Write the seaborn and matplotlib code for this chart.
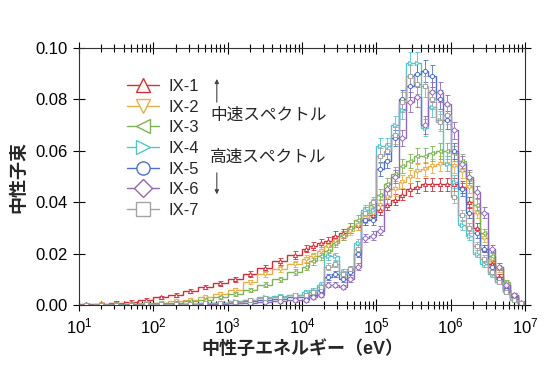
import numpy as np
import pandas as pd
import matplotlib
matplotlib.use('Agg')
import matplotlib.pyplot as plt
import seaborn as sns
from matplotlib.lines import Line2D
from matplotlib.ticker import LogLocator, FormatStrFormatter, NullFormatter

# bin edges (log10 eV)
edge_exp = [1.0, 1.2, 1.4, 1.6, 1.8, 2.0, 2.2, 2.4, 2.6, 2.8, 3.0, 3.2, 3.4, 3.6, 3.8,
            4.0, 4.1, 4.2, 4.3, 4.4, 4.5, 4.6, 4.7, 4.8, 4.9, 5.0, 5.1, 5.2, 5.3, 5.4,
            5.5, 5.6, 5.7, 5.8, 5.9, 6.0, 6.1, 6.2, 6.3, 6.4, 6.5, 6.6, 6.7, 6.8, 6.9, 7.0]
x_ticks = [1e1, 1e2, 1e3, 1e4, 1e5, 1e6, 1e7]
y_ticks = [0.0, 0.02, 0.04, 0.06, 0.08, 0.10]

series_names = ['IX-1', 'IX-2', 'IX-3', 'IX-4', 'IX-5', 'IX-6', 'IX-7']
series_colors = ['#d0303c', '#e3b04a', '#80b25a', '#58c4c8', '#5070c4', '#9068b4', '#a4a4a4']
series_markers = ['^', 'v', '<', '>', 'o', 'D', 's']

ix1 = [0.0003, 0.0005, 0.0008, 0.0012, 0.002, 0.003, 0.004, 0.0055, 0.007, 0.0085,
       0.010, 0.012, 0.0145, 0.017, 0.0195,
       0.022, 0.023, 0.024, 0.025, 0.027, 0.028, 0.030, 0.031, 0.033, 0.035,
       0.037, 0.039, 0.041, 0.043, 0.045, 0.046, 0.047, 0.047, 0.047, 0.047,
       0.047, 0.046, 0.040, 0.030, 0.022, 0.016, 0.011, 0.006, 0.003, 0.001]
ix2 = [0.0002, 0.0003, 0.0004, 0.0006, 0.0008, 0.001, 0.0015, 0.002, 0.003, 0.0045,
       0.006, 0.009, 0.012, 0.014, 0.016,
       0.018, 0.019, 0.021, 0.023, 0.025, 0.027, 0.029, 0.031, 0.034, 0.036,
       0.039, 0.042, 0.045, 0.048, 0.050, 0.052, 0.053, 0.054, 0.055, 0.055,
       0.054, 0.052, 0.046, 0.036, 0.026, 0.018, 0.014, 0.008, 0.004, 0.001]
ix3 = [0.0001, 0.0002, 0.0003, 0.0004, 0.0005, 0.0007, 0.001, 0.0015, 0.002, 0.003,
       0.0045, 0.006, 0.008, 0.010, 0.013,
       0.015, 0.017, 0.019, 0.021, 0.024, 0.027, 0.030, 0.033, 0.036, 0.039,
       0.043, 0.047, 0.051, 0.054, 0.056, 0.058, 0.058, 0.059, 0.060, 0.060,
       0.059, 0.056, 0.049, 0.039, 0.028, 0.019, 0.015, 0.009, 0.004, 0.001]
ix4 = [0.0001, 0.0001, 0.0002, 0.0002, 0.0003, 0.0004, 0.0005, 0.0006, 0.0008, 0.001,
       0.0015, 0.002, 0.003, 0.0035, 0.004,
       0.005, 0.006, 0.008, 0.019, 0.019, 0.013, 0.014, 0.024, 0.037, 0.037,
       0.062, 0.062, 0.070, 0.076, 0.094, 0.094, 0.069, 0.077, 0.072, 0.055,
       0.048, 0.031, 0.027, 0.020, 0.016, 0.012, 0.009, 0.005, 0.002, 0.001]
ix5 = [0.0001, 0.0001, 0.0001, 0.0002, 0.0002, 0.0003, 0.0004, 0.0005, 0.0006, 0.0008,
       0.001, 0.0015, 0.002, 0.0025, 0.003,
       0.003, 0.004, 0.006, 0.011, 0.012, 0.010, 0.013, 0.020, 0.033, 0.033,
       0.053, 0.056, 0.065, 0.080, 0.085, 0.090, 0.091, 0.089, 0.080, 0.072,
       0.060, 0.045, 0.036, 0.028, 0.022, 0.015, 0.010, 0.006, 0.003, 0.001]
ix6 = [0.0001, 0.0001, 0.0001, 0.0001, 0.0002, 0.0002, 0.0003, 0.0004, 0.0005, 0.0006,
       0.0008, 0.001, 0.0013, 0.0016, 0.002,
       0.002, 0.003, 0.004, 0.008, 0.008, 0.007, 0.010, 0.015, 0.026, 0.027,
       0.029, 0.045, 0.050, 0.065, 0.079, 0.081, 0.070, 0.083, 0.083, 0.078,
       0.068, 0.055, 0.050, 0.044, 0.036, 0.022, 0.015, 0.008, 0.004, 0.001]
ix7 = [0.0001, 0.0001, 0.0002, 0.0002, 0.0003, 0.0004, 0.0005, 0.0006, 0.0008, 0.001,
       0.0014, 0.002, 0.0028, 0.0033, 0.0038,
       0.004, 0.005, 0.007, 0.015, 0.016, 0.012, 0.014, 0.022, 0.036, 0.040,
       0.058, 0.060, 0.066, 0.079, 0.089, 0.086, 0.085, 0.080, 0.071, 0.074,
       0.042, 0.035, 0.030, 0.023, 0.018, 0.013, 0.009, 0.005, 0.002, 0.001]
series_values = [ix1, ix2, ix3, ix4, ix5, ix6, ix7]
rel_err = 0.04

sns.set_theme(style='ticks')
plt.rcParams['font.family'] = ['Liberation Sans', 'Noto Sans CJK JP', 'DejaVu Sans']
plt.rcParams['mathtext.fontset'] = 'custom'
plt.rcParams['mathtext.rm'] = 'Liberation Sans'

edges = 10 ** np.array(edge_exp)
centers = 10 ** ((np.array(edge_exp[:-1]) + np.array(edge_exp[1:])) / 2)

rows = []
for name, vals in zip(series_names, series_values):
    for c, v in zip(centers, vals):
        rows.append({'energy': c, 'flux': v, 'series': name})
df = pd.DataFrame(rows)

fig = plt.figure(figsize=(5.5, 3.8), dpi=100)
ax = fig.add_axes([0.1436, 0.197, 0.811, 0.677])

palette = dict(zip(series_names, series_colors))
marker_map = dict(zip(series_names, series_markers))

for name, vals in zip(series_names, series_values):
    col = palette[name]
    vals = np.array(vals)
    ax.stairs(vals, edges, color=col, lw=1.0, baseline=None)
    ax.errorbar(centers, vals, yerr=vals * rel_err + 0.0006, fmt='none',
                ecolor=col, elinewidth=0.6, capsize=1.8, capthick=0.6)

n_before = len(ax.lines)
sns.lineplot(data=df, x='energy', y='flux', hue='series', style='series',
             palette=palette, markers=marker_map, dashes=False, linestyle='',
             markersize=3, markerfacecolor='white', markeredgewidth=0.7,
             legend=False, ax=ax, sort=False)
for ln in ax.lines[n_before:]:
    ln.set_markeredgecolor(ln.get_color())
    ln.set_markerfacecolor('white')

ax.set_xscale('log')
ax.set_xlim(10, 1e7)
ax.set_ylim(0, 0.10)
ax.set_xticks(x_ticks)
ax.set_yticks(y_ticks)
ax.yaxis.set_major_formatter(FormatStrFormatter('%.2f'))
ax.xaxis.set_minor_locator(LogLocator(base=10, subs=np.arange(2, 10), numticks=20))
ax.xaxis.set_minor_formatter(NullFormatter())
ax.yaxis.set_minor_locator(plt.NullLocator())
ax.tick_params(which='both', direction='inout', top=True, right=True,
               labelsize=12, colors='black', width=0.8)
ax.tick_params(which='major', length=9)
ax.tick_params(which='minor', length=6)
for sp in ax.spines.values():
    sp.set_linewidth(0.8)
    sp.set_color('#333333')

ax.set_xlabel('中性子エネルギー（eV）', fontsize=13, fontweight='bold', labelpad=3)
ax.set_ylabel('中性子束', fontsize=13, fontweight='bold', labelpad=6)

handles = [Line2D([0], [0], color=c, marker=m, markersize=9.5, markerfacecolor='white',
                  markeredgecolor=c, lw=1.0)
           for c, m in zip(series_colors, series_markers)]
ax.legend(handles, series_names, loc='upper left', bbox_to_anchor=(0.093, 0.905),
          frameon=False, fontsize=12, handlelength=1.9, labelspacing=0.34,
          handletextpad=0.6, borderaxespad=0)

ax.text(0.294, 0.739, '中速スペクトル', transform=ax.transAxes, fontsize=12, va='center')
ax.text(0.294, 0.576, '高速スペクトル', transform=ax.transAxes, fontsize=12, va='center')
ax.annotate('', xy=(0.309, 0.89), xytext=(0.309, 0.778), xycoords='axes fraction',
            arrowprops=dict(arrowstyle='-|>', color='#444444', lw=0.8, mutation_scale=6))
ax.annotate('', xy=(0.309, 0.42), xytext=(0.309, 0.525), xycoords='axes fraction',
            arrowprops=dict(arrowstyle='-|>', color='#444444', lw=0.8, mutation_scale=6))

fig.savefig('out.png', dpi=100)
